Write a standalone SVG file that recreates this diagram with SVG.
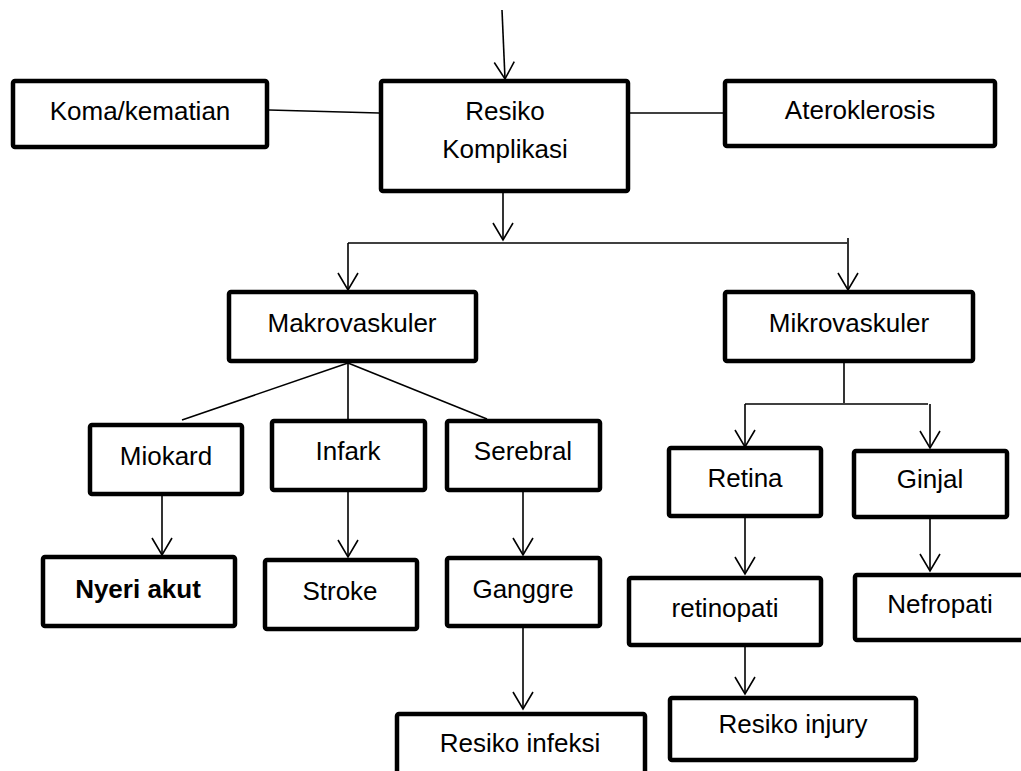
<svg xmlns="http://www.w3.org/2000/svg" width="1021" height="771" viewBox="0 0 1021 771">
<style>
.box{fill:#fff;stroke:#000;stroke-width:4.5}
.t{font-family:"Liberation Sans",Arial,sans-serif;font-size:26px;fill:#000;text-anchor:middle}
.b{font-weight:bold}
.c{fill:none;stroke:#000;stroke-width:1.6}
</style>
<defs>
<marker id="ah" markerUnits="userSpaceOnUse" viewBox="-18 -12 20 24" markerWidth="20" markerHeight="24" refX="0" refY="0" orient="auto">
<path d="M-17,-10 L0,0 L-17,10" fill="none" stroke="#000" stroke-width="1.6"/>
</marker>
</defs>
<rect width="1021" height="771" fill="#fff"/>
<g id="connectors">
<path class="c" d="M502,10 L505,79" marker-end="url(#ah)"/>
<path class="c" d="M269,110 L379,113"/>
<path class="c" d="M630,113 L723,113"/>
<path class="c" d="M503,193 L503,240" marker-end="url(#ah)"/>
<path class="c" d="M348,243 L847,243"/>
<path class="c" d="M348,243 L348,290" marker-end="url(#ah)"/>
<path class="c" d="M848,238 L848,290" marker-end="url(#ah)"/>
<path class="c" d="M348,363 L182,420"/>
<path class="c" d="M348,363 L348,419"/>
<path class="c" d="M348,363 L487,419"/>
<path class="c" d="M844,363 L844,403"/>
<path class="c" d="M745,404 L928,404"/>
<path class="c" d="M745,404 L745,447" marker-end="url(#ah)"/>
<path class="c" d="M930,404 L930,448" marker-end="url(#ah)"/>
<path class="c" d="M162,496 L162,555" marker-end="url(#ah)"/>
<path class="c" d="M348,492 L348,557" marker-end="url(#ah)"/>
<path class="c" d="M523,492 L523,555" marker-end="url(#ah)"/>
<path class="c" d="M523,628 L523,709" marker-end="url(#ah)"/>
<path class="c" d="M745,518 L745,574" marker-end="url(#ah)"/>
<path class="c" d="M930,519 L930,571" marker-end="url(#ah)"/>
<path class="c" d="M745,647 L745,694" marker-end="url(#ah)"/>
</g>
<g id="koma"><rect class="box" x="13" y="81" width="254" height="66" rx="2"/><text class="t" x="140" y="120">Koma/kematian</text></g>
<g id="resiko-komplikasi"><rect class="box" x="381" y="81" width="247" height="110" rx="2"/><text class="t" x="505" y="120">Resiko</text><text class="t" x="505" y="158">Komplikasi</text></g>
<g id="ateroklerosis"><rect class="box" x="725" y="81" width="270" height="65" rx="2"/><text class="t" x="860" y="119">Ateroklerosis</text></g>
<g id="makrovaskuler"><rect class="box" x="229" y="292" width="247" height="69" rx="2"/><text class="t" x="352" y="332">Makrovaskuler</text></g>
<g id="mikrovaskuler"><rect class="box" x="725" y="292" width="248" height="69" rx="2"/><text class="t" x="849" y="332">Mikrovaskuler</text></g>
<g id="miokard"><rect class="box" x="90" y="425" width="152" height="69" rx="2"/><text class="t" x="166" y="465">Miokard</text></g>
<g id="infark"><rect class="box" x="272" y="421" width="153" height="69" rx="2"/><text class="t" x="348" y="460">Infark</text></g>
<g id="serebral"><rect class="box" x="447" y="421" width="153" height="69" rx="2"/><text class="t" x="523" y="460">Serebral</text></g>
<g id="retina"><rect class="box" x="669" y="448" width="152" height="68" rx="2"/><text class="t" x="745" y="487">Retina</text></g>
<g id="ginjal"><rect class="box" x="854" y="451" width="153" height="66" rx="2"/><text class="t" x="930" y="488">Ginjal</text></g>
<g id="nyeri-akut"><rect class="box" x="43" y="557" width="192" height="69" rx="2"/><text class="t b" x="138" y="598">Nyeri akut</text></g>
<g id="stroke"><rect class="box" x="265" y="560" width="152" height="69" rx="2"/><text class="t" x="340" y="600">Stroke</text></g>
<g id="ganggre"><rect class="box" x="447" y="558" width="153" height="68" rx="2"/><text class="t" x="523" y="598">Ganggre</text></g>
<g id="retinopati"><rect class="box" x="629" y="578" width="192" height="67" rx="2"/><text class="t" x="725" y="617">retinopati</text></g>
<g id="nefropati"><rect class="box" x="855" y="575" width="175" height="65" rx="2"/><text class="t" x="940" y="613">Nefropati</text></g>
<g id="resiko-injury"><rect class="box" x="670" y="698" width="246" height="62" rx="2"/><text class="t" x="793" y="733">Resiko injury</text></g>
<g id="resiko-infeksi"><rect class="box" x="397" y="714" width="248" height="70" rx="2"/><text class="t" x="520" y="752">Resiko infeksi</text></g>
</svg>
